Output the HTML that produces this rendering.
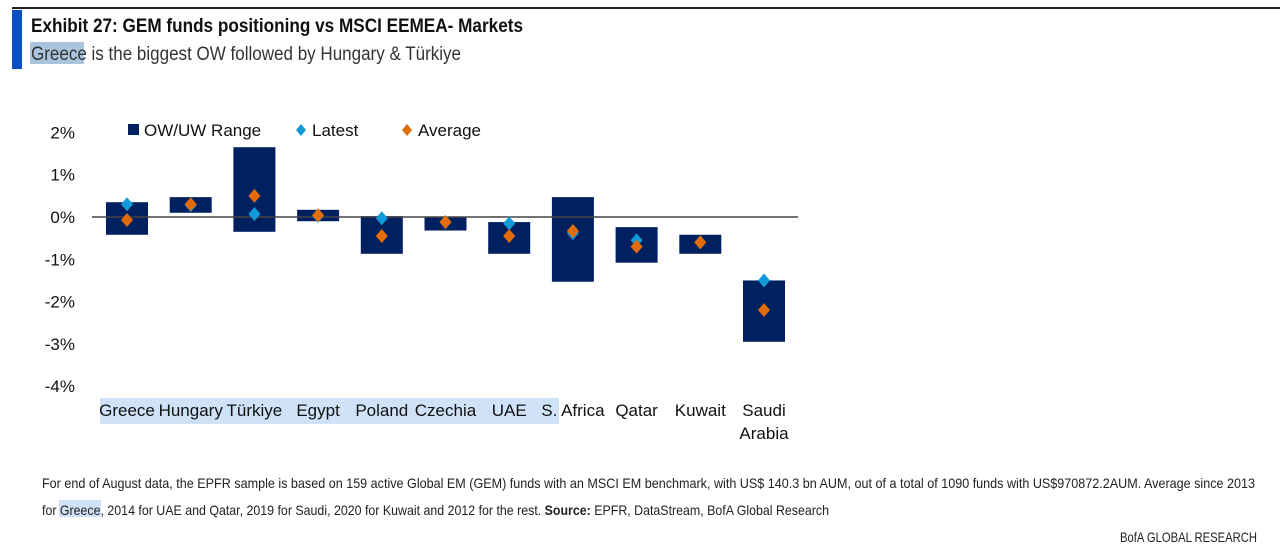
<!DOCTYPE html>
<html><head><meta charset="utf-8"><style>
html,body{margin:0;padding:0;background:#fff;}
svg{display:block;font-family:"Liberation Sans",Arial,sans-serif;}
.n{font-family:"Liberation Sans Narrow","Liberation Sans",sans-serif;}
</style></head><body>
<svg id="c" width="1280" height="552" viewBox="0 0 1280 552">
<rect x="12" y="7" width="1268" height="2" fill="#222"/>
<rect x="12" y="10" width="10" height="59" fill="#0b4fc4"/>
<rect x="30" y="42" width="54" height="22" fill="#a9c4dc"/>
<text class="n" x="31" y="32" font-size="19" font-weight="bold" fill="#111" textLength="492" lengthAdjust="spacingAndGlyphs">Exhibit 27: GEM funds positioning vs MSCI EEMEA- Markets</text>
<text class="n" x="31" y="60" font-size="19" fill="#333" textLength="430" lengthAdjust="spacingAndGlyphs">Greece is the biggest OW followed by Hungary &amp; Türkiye</text>
<rect x="100" y="398" width="459" height="26" fill="#cfe2f7"/>
<g id="legend">
<rect x="128" y="124" width="11" height="11" fill="#002060"/>
<text x="144" y="136" font-size="17" fill="#111">OW/UW Range</text>
<path d="M301 124 L306 130 L301 136 L296 130Z" fill="#109ad7"/>
<text x="312" y="136" font-size="17" fill="#111">Latest</text>
<path d="M407 124 L412 130 L407 136 L402 130Z" fill="#e36c0a"/>
<text x="418" y="136" font-size="17" fill="#111">Average</text>
</g>
<g id="plot"></g>
<text class="n" x="42" y="488" font-size="14" fill="#222" textLength="1213" lengthAdjust="spacingAndGlyphs">For end of August data, the EPFR sample is based on 159 active Global EM (GEM) funds with an MSCI EM benchmark, with US$ 140.3 bn AUM, out of a total of 1090 funds with US$970872.2AUM. Average since 2013</text>
<rect x="59" y="500" width="42" height="17" fill="#cfe2f7"/>
<text class="n" x="42" y="515" font-size="14" fill="#222" textLength="787" lengthAdjust="spacingAndGlyphs">for Greece, 2014 for UAE and Qatar, 2019 for Saudi, 2020 for Kuwait and 2012 for the rest. <tspan font-weight="bold">Source:</tspan> EPFR, DataStream, BofA Global Research</text>
<text class="n" x="1257" y="542" font-size="14" fill="#222" text-anchor="end" textLength="137" lengthAdjust="spacingAndGlyphs">BofA GLOBAL RESEARCH</text>
</svg>
<script>
const categories=["Greece","Hungary","Türkiye","Egypt","Poland","Czechia","UAE","S. Africa","Qatar","Kuwait","Saudi|Arabia"];
const rangeTop=[0.35,0.47,1.65,0.17,0.02,0.0,-0.12,0.47,-0.24,-0.42,-1.5];
const rangeBottom=[-0.42,0.1,-0.35,-0.1,-0.87,-0.32,-0.87,-1.53,-1.08,-0.87,-2.95];
const latest=[0.3,0.28,0.07,0.03,-0.03,-0.12,-0.15,-0.38,-0.55,-0.6,-1.5];
const average=[-0.07,0.3,0.5,0.04,-0.45,-0.12,-0.45,-0.33,-0.7,-0.6,-2.2];
const yTicks=[2,1,0,-1,-2,-3,-4];
const NS="http://www.w3.org/2000/svg";
const g=document.getElementById('plot');
const y=v=>217-v*42.3;
const x=i=>127+i*63.7;
function mk(t,a){const e=document.createElementNS(NS,t);for(const k in a)e.setAttribute(k,a[k]);g.appendChild(e);return e;}
yTicks.forEach(v=>{const t=mk('text',{x:75,y:y(v)+6,'font-size':17,fill:'#111','text-anchor':'end'});t.textContent=v+'%';

});
categories.forEach((c,i)=>{
const top=Math.max(rangeTop[i],rangeBottom[i]),bot=Math.min(rangeTop[i],rangeBottom[i]);
const r=mk('rect',{x:x(i)-21,y:y(top),width:42,height:y(bot)-y(top),fill:'#002060'});


const lines=c.split('|');
lines.forEach((l,j)=>{const t=mk('text',{x:x(i),y:416+j*23,'font-size':17,fill:'#111','text-anchor':'middle'});t.textContent=l;

});
});
const zl=mk('line',{x1:92,x2:798,y1:y(0),y2:y(0),stroke:'#444','stroke-width':1.6});


function dia(cx,cy,col){return mk('path',{d:`M${cx} ${cy-7} L${cx+6} ${cy} L${cx} ${cy+7} L${cx-6} ${cy}Z`,fill:col});}
categories.forEach((c,i)=>{
const a=dia(x(i),y(latest[i]),'#109ad7');


const b=dia(x(i),y(average[i]),'#e36c0a');


});
</script>
</body></html>
